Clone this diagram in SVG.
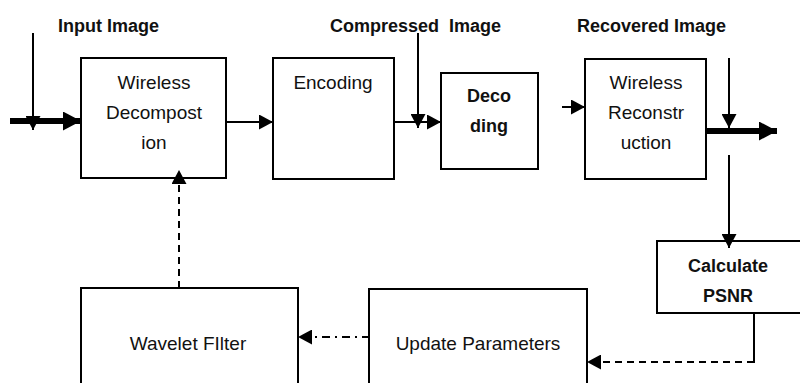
<svg xmlns="http://www.w3.org/2000/svg" width="800" height="383" viewBox="0 0 800 383">
<defs>
<style>
.box{fill:#fff;stroke:#000;stroke-width:2}
.t{font-family:"Liberation Sans",Arial,sans-serif;font-size:19px;fill:#111;text-anchor:middle}
.b{font-family:"Liberation Sans",Arial,sans-serif;font-size:18px;font-weight:bold;fill:#111}
.c{fill:none;stroke:#000;stroke-width:2}
.thick{fill:none;stroke:#000;stroke-width:6}
.dash{stroke-dasharray:7,5}
.dashdot{stroke-dasharray:8,5,2,5}
</style>
<marker id="ah" viewBox="0 0 14 15" refX="14" refY="7.5" markerWidth="14" markerHeight="15" markerUnits="userSpaceOnUse" orient="auto">
<path d="M0,0 L14,7.5 L0,15 Z" fill="#000" stroke="none"/>
</marker>
<marker id="ahb" viewBox="0 0 18 19" refX="18" refY="9.5" markerWidth="18" markerHeight="19" markerUnits="userSpaceOnUse" orient="auto">
<path d="M0,0 L18,9.5 L0,19 Z" fill="#000" stroke="none"/>
</marker>
</defs>
<rect width="800" height="383" fill="#fff"/>

<g id="labels">
<text class="b" x="58" y="32">Input Image</text>
<text class="b" x="330" y="32" xml:space="preserve">Compressed  Image</text>
<text class="b" x="577" y="32">Recovered Image</text>
</g>

<g id="n-decomposition">
<rect class="box" x="81" y="58" width="145" height="120"/>
<text class="t" x="154" y="89">Wireless</text>
<text class="t" x="154" y="119">Decompost</text>
<text class="t" x="154" y="149">ion</text>
</g>
<g id="n-encoding">
<rect class="box" x="273" y="58" width="121" height="121"/>
<text class="t" x="333" y="89">Encoding</text>
</g>
<g id="n-decoding">
<rect class="box" x="441" y="73" width="97" height="96"/>
<text class="b" x="489" y="102" text-anchor="middle">Deco</text>
<text class="b" x="489" y="132" text-anchor="middle">ding</text>
</g>
<g id="n-reconstruction">
<rect class="box" x="585" y="59" width="121" height="120"/>
<text class="t" x="646" y="89">Wireless</text>
<text class="t" x="646" y="119">Reconstr</text>
<text class="t" x="646" y="149">uction</text>
</g>
<g id="n-psnr">
<rect class="box" x="657" y="241" width="150" height="72"/>
<text class="b" x="728" y="272" text-anchor="middle">Calculate</text>
<text class="b" x="728" y="302" text-anchor="middle">PSNR</text>
</g>
<g id="n-update">
<rect class="box" x="369" y="289" width="218" height="110"/>
<text class="t" x="478" y="350">Update Parameters</text>
</g>
<g id="n-wavelet">
<rect class="box" x="81" y="288" width="217" height="110"/>
<text class="t" x="188" y="350">Wavelet FIlter</text>
</g>

<g id="connectors">
<line class="thick" x1="10" y1="121" x2="81" y2="121" marker-end="url(#ahb)"/>
<line class="c" x1="33" y1="33" x2="33" y2="130" marker-end="url(#ah)"/>
<line class="c" x1="226" y1="122" x2="273" y2="122" marker-end="url(#ah)"/>
<line class="c" x1="418" y1="33" x2="418" y2="128" marker-end="url(#ah)"/>
<line class="c" x1="394" y1="122" x2="441" y2="122" marker-end="url(#ah)"/>
<line class="c" x1="562" y1="107" x2="585" y2="107" marker-end="url(#ah)"/>
<line class="thick" x1="706" y1="131" x2="777" y2="131" marker-end="url(#ahb)"/>
<line class="c" x1="729" y1="58" x2="729" y2="128" marker-end="url(#ah)"/>
<line class="c" x1="729" y1="155" x2="729" y2="248" marker-end="url(#ah)"/>
<line class="c" x1="754" y1="313" x2="754" y2="363"/>
<line class="c dash" x1="754" y1="362" x2="587" y2="362" marker-end="url(#ah)"/>
<line class="c dashdot" x1="370" y1="337" x2="298" y2="337" marker-end="url(#ah)"/>
<line class="c dash" x1="179" y1="288" x2="179" y2="170" marker-end="url(#ah)"/>
</g>
</svg>
